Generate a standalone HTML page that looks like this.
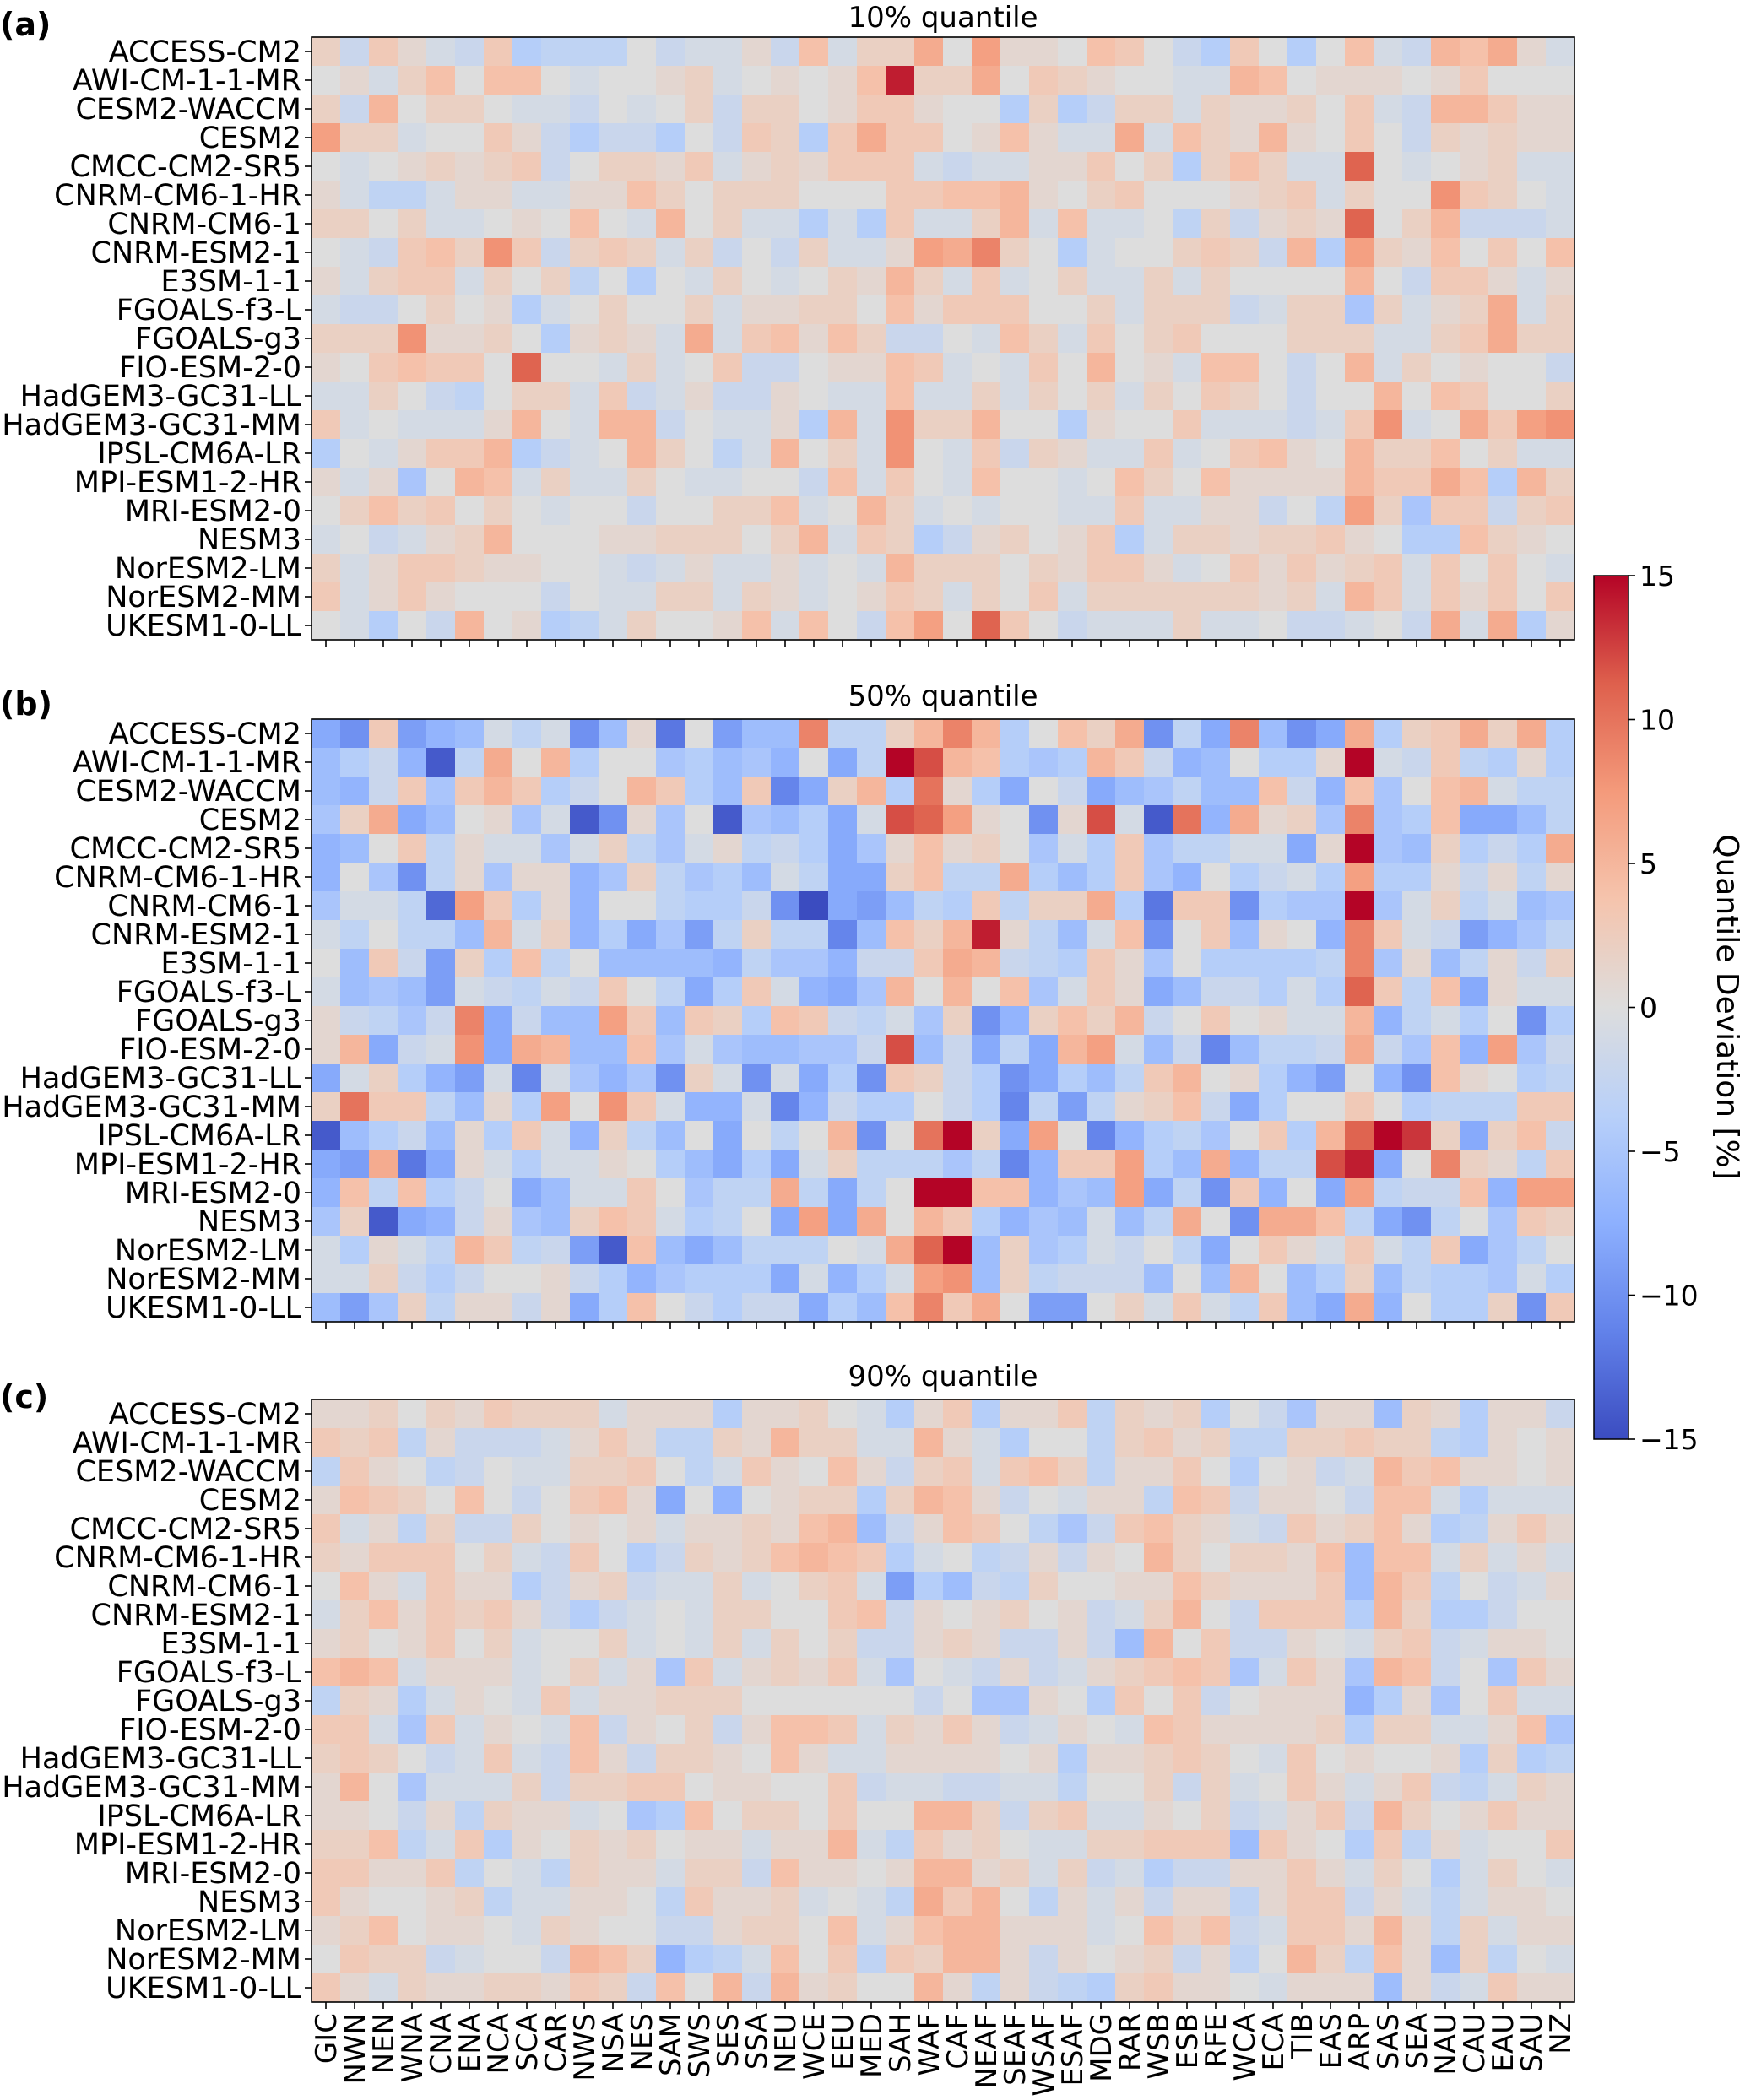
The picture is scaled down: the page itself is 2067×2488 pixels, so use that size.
<!DOCTYPE html>
<html><head><meta charset="utf-8"><title>Quantile deviation heatmaps</title>
<style>
html,body{margin:0;padding:0;background:#fff;}
svg{display:block;font-family:"DejaVu Sans","Liberation Sans",sans-serif;}
</style></head>
<body>
<svg id="fig" width="2067" height="2488" viewBox="0 0 2067 2488" xmlns="http://www.w3.org/2000/svg">
<defs>
<linearGradient id="cbgrad" x1="0" y1="1" x2="0" y2="0">
<stop offset="0" stop-color="rgb(59,76,192)"/>
<stop offset="0.125" stop-color="rgb(98,130,234)"/>
<stop offset="0.25" stop-color="rgb(141,176,254)"/>
<stop offset="0.375" stop-color="rgb(184,208,249)"/>
<stop offset="0.5" stop-color="rgb(221,221,221)"/>
<stop offset="0.625" stop-color="rgb(245,196,173)"/>
<stop offset="0.75" stop-color="rgb(244,154,123)"/>
<stop offset="0.875" stop-color="rgb(222,96,77)"/>
<stop offset="1" stop-color="rgb(180,4,38)"/>
</linearGradient>
</defs>
<rect width="2067" height="2488" fill="#fff"/>
<g id="panels"></g>
<g id="colorbar">
<rect x="1888" y="682" width="41" height="1023" fill="url(#cbgrad)" stroke="#000" stroke-width="1.5"/>
</g>
</svg>
<script>
const models = ["ACCESS-CM2","AWI-CM-1-1-MR","CESM2-WACCM","CESM2","CMCC-CM2-SR5","CNRM-CM6-1-HR","CNRM-CM6-1","CNRM-ESM2-1","E3SM-1-1","FGOALS-f3-L","FGOALS-g3","FIO-ESM-2-0","HadGEM3-GC31-LL","HadGEM3-GC31-MM","IPSL-CM6A-LR","MPI-ESM1-2-HR","MRI-ESM2-0","NESM3","NorESM2-LM","NorESM2-MM","UKESM1-0-LL"];
const regions = ["GIC","NWN","NEN","WNA","CNA","ENA","NCA","SCA","CAR","NWS","NSA","NES","SAM","SWS","SES","SSA","NEU","WCE","EEU","MED","SAH","WAF","CAF","NEAF","SEAF","WSAF","ESAF","MDG","RAR","WSB","ESB","RFE","WCA","ECA","TIB","EAS","ARP","SAS","SEA","NAU","CAU","EAU","SAU","NZ"];
const cbTicks = [15,10,5,0,-5,-10,-15];
const panelTitles = ["10% quantile","50% quantile","90% quantile"];
const panelLetters = ["(a)","(b)","(c)"];
const q10 = [
[2,-2,3,1,-1,-2,3,-4,-3,-3,-3,0,-2,-1,-1,1,-2,4,-1,2,2,6,0,7,1,1,0,4,3,0,-2,-4,3,0,-4,0,4,-1,-2,5,4,6,1,-1],
[0,1,-1,2,4,0,4,4,0,-1,0,0,1,2,-1,0,1,0,1,4,14,2,2,6,0,3,2,1,0,0,-1,-1,5,4,0,1,1,1,0,1,3,0,0,0],
[2,-2,5,0,2,2,0,-1,-1,-2,0,-1,0,2,-2,2,2,0,1,3,3,1,0,0,-4,2,-4,-2,2,2,-1,2,1,1,2,0,3,-1,-2,5,5,3,1,1],
[7,2,2,-1,0,0,3,1,-2,-4,-2,-2,-4,0,-2,3,2,-4,3,6,3,3,0,1,4,1,-1,-1,6,-1,4,2,1,5,1,0,3,0,-2,2,1,2,1,1],
[0,-1,0,1,2,1,2,3,-2,0,2,2,1,3,-1,1,2,1,3,3,3,-1,-2,-1,-1,1,1,3,0,2,-4,2,4,2,-1,-1,11,0,-1,0,1,2,-1,-1],
[1,-1,-3,-3,-1,1,1,-1,-1,1,1,4,2,0,2,2,2,0,0,0,3,3,4,4,5,1,0,2,3,0,0,0,1,2,3,-1,2,0,0,8,3,2,0,-1],
[2,2,0,2,-1,-1,0,1,0,4,0,-1,5,0,2,-1,-1,-4,-1,-4,3,-1,-1,2,5,-1,4,-1,-1,0,-3,2,-2,1,2,1,11,0,2,5,-2,-2,-2,-1],
[0,-1,-2,3,4,2,8,3,-2,2,3,2,-1,2,-2,0,-2,2,-1,-1,1,7,6,9,2,0,-4,-1,0,0,2,3,2,-2,5,-4,7,2,1,4,0,3,0,4],
[1,-1,2,3,3,-1,2,0,2,-3,0,-4,0,-1,2,0,-1,0,2,1,5,2,-1,3,-1,0,2,-1,-1,2,-1,2,0,0,0,0,5,0,-2,3,3,1,-1,1],
[-1,-2,-2,0,2,0,1,-4,-1,0,2,0,0,2,-1,1,1,2,2,0,4,1,3,3,3,0,0,2,-1,2,2,2,-2,-1,2,2,-5,2,-1,1,2,6,-1,2],
[2,2,2,8,1,1,2,0,-4,1,2,1,-1,6,-1,3,4,1,4,2,-2,-2,0,-1,4,2,-1,3,0,2,3,0,0,0,2,2,2,-1,-1,2,3,6,2,2],
[1,0,3,4,3,3,0,11,0,0,-1,2,-1,0,3,-2,-2,0,1,1,4,3,-1,0,-1,3,0,5,0,1,-1,4,4,0,-2,0,5,-1,2,0,1,0,0,-2],
[-1,-1,2,0,-2,-3,0,2,2,-1,3,-2,-1,1,-2,-2,1,0,-1,-1,4,-1,-1,2,-1,2,0,2,-1,2,0,3,2,0,-2,0,0,5,0,4,3,0,0,2],
[3,-1,0,-1,-1,-1,1,5,0,-1,5,5,-2,0,-1,-1,1,-4,5,-1,8,2,2,5,0,0,-4,1,0,0,3,-1,-1,-1,-2,-1,3,8,-1,0,6,3,7,8],
[-4,0,-1,1,3,3,5,-4,-2,-1,0,5,2,0,-3,-1,5,0,2,-1,8,0,-1,3,-2,2,1,-1,-1,3,-1,0,3,4,1,0,5,2,2,4,0,2,-1,-1],
[1,-1,1,-5,0,5,4,-1,2,-1,-1,2,0,-1,-1,0,0,-2,4,-1,3,0,-1,4,0,0,-1,0,4,2,0,4,1,1,1,1,5,3,3,6,4,-4,5,2],
[0,2,4,2,3,0,2,0,-1,0,0,-2,0,0,2,2,4,-1,0,5,2,-1,0,-1,0,0,-1,-1,3,-1,-1,1,1,-2,0,-3,7,2,-5,3,3,-2,2,3],
[-1,0,-2,-1,1,2,5,0,0,0,1,1,2,2,2,0,2,5,-1,3,2,-4,-2,1,2,0,1,3,-4,-1,2,2,1,2,2,3,1,0,-4,-4,4,2,1,0],
[2,-1,1,3,3,2,1,1,0,0,-1,-2,-1,1,-1,-1,1,-1,0,-1,5,2,2,2,0,2,1,3,3,1,-1,0,3,1,3,1,2,3,-1,3,0,3,0,-1],
[3,-1,1,3,1,0,0,0,-2,0,-1,-1,2,2,-1,2,1,-1,0,1,3,2,-1,2,0,3,-1,2,2,2,2,2,2,1,2,-1,5,3,-1,3,1,3,0,3],
[0,-1,-4,0,-2,5,0,1,-4,-3,-1,2,0,0,1,4,-1,4,0,-2,4,7,0,11,3,0,-2,-1,-1,-1,2,-1,-1,0,-2,-2,-1,0,-2,6,-1,6,-4,1]
];
const q50 = [
[-8,-10,3,-9,-7,-6,-1,-3,-1,-10,-6,1,-12,0,-9,-6,-6,9,-3,-3,2,5,9,5,-4,0,4,2,6,-10,-3,-8,9,-6,-10,-8,6,-4,2,3,6,2,6,-4],
[-6,-4,-2,-7,-14,-3,6,0,5,-4,0,0,-5,-4,-6,-5,-7,0,-8,-3,15,12,5,4,-4,-5,-4,5,3,-2,-7,-6,0,-4,-4,1,15,-1,-2,3,-3,-4,1,-4],
[-6,-7,-2,3,-5,3,5,3,-4,-2,0,5,3,-4,-6,3,-11,-8,2,5,-4,10,1,-4,-8,0,-2,-8,-6,-5,-3,-6,-6,4,-2,-7,4,-5,0,4,5,-1,-3,-3],
[-5,2,6,-8,-6,0,1,-5,-1,-14,-10,1,-5,0,-14,-5,-6,-4,-8,-1,12,11,7,1,0,-10,1,12,-1,-14,10,-7,6,1,2,-5,9,-5,-4,4,-8,-8,-6,-3],
[-7,-6,0,3,-3,1,-1,-1,-5,-1,2,-3,-5,-1,1,-3,-2,-4,-8,-5,1,4,1,2,0,-5,-1,-4,3,-5,-3,-3,-1,-1,-8,1,15,-5,-6,2,-4,-2,-4,6],
[-7,0,-5,-10,-3,1,-5,1,1,-7,-5,2,-3,-5,-4,-6,-1,-3,-8,-8,2,4,-3,-3,6,-4,-6,-4,3,-5,-7,0,-4,-2,-1,-4,7,-4,-4,1,-2,1,-3,1],
[-5,-1,-1,-3,-13,7,3,-4,1,-7,0,0,-3,-4,-4,-2,-10,-15,-8,-9,-6,-3,-4,3,-3,2,2,6,-4,-12,3,3,-10,-4,-5,-5,15,-5,-1,2,-3,-1,-6,-5],
[-1,-3,0,-3,-3,-6,5,-1,2,-7,-4,-8,-5,-9,-3,2,-3,-3,-11,-6,4,2,5,14,1,-3,-6,-1,4,-10,0,3,-6,1,0,-7,9,3,-1,-2,-9,-7,-5,-3],
[0,-6,3,-2,-9,2,-4,4,-3,0,-6,-6,-6,-6,-7,-3,-5,-5,-7,-2,-2,3,6,5,-2,-3,-4,3,1,-5,0,-4,-4,-4,-4,-3,9,-5,1,-6,-3,1,-2,2],
[-1,-6,-5,-6,-9,-1,-2,-3,-1,-2,3,0,-3,-8,-4,3,-1,-7,-8,-5,5,0,5,0,4,-5,-1,3,1,-8,-6,-2,-2,-4,-1,-4,11,3,-3,4,-8,1,-1,-1],
[1,-2,-3,-5,-2,9,-8,-2,-6,-6,7,3,-6,3,2,-4,4,3,-2,-3,-1,-5,2,-10,-7,2,4,2,5,-2,0,3,0,1,-1,-1,5,-7,-3,-1,-4,0,-10,-4],
[1,5,-8,-2,-1,8,-8,6,5,-6,-6,4,-5,-1,-5,-6,-6,-5,-5,-2,12,-6,-2,-8,-3,-8,5,7,-1,-6,-2,-11,-6,-3,-3,-2,6,-2,-5,4,-7,7,-5,-2],
[-8,-1,2,-4,-7,-9,-1,-11,-1,-5,-7,-5,-10,2,-1,-10,-1,-8,-4,-10,3,2,-2,-4,-10,-8,-4,-6,-3,3,5,0,1,-4,-7,-9,0,-7,-10,4,1,0,-4,-3],
[2,10,3,3,-3,-6,1,-4,7,0,8,3,-1,-7,-7,-1,-11,-7,-2,-4,-4,0,-2,-4,-11,-3,-9,-3,1,2,4,-2,-8,-4,0,0,3,0,-4,-3,-3,-3,3,3],
[-14,-6,-4,-2,-6,1,-4,3,-1,-7,2,-3,-6,0,-8,0,-3,0,5,-10,0,10,15,2,-8,7,0,-11,-7,-4,-3,-5,0,3,-4,5,11,15,13,2,-8,2,4,-2],
[-8,-9,6,-12,-8,1,-1,-4,-1,-1,1,0,-4,-6,-8,-4,-8,-1,2,-3,-3,-3,-5,-3,-11,-7,3,3,7,-4,-6,6,-7,-3,-3,12,14,-8,0,9,2,1,-3,3],
[-7,4,-3,4,-4,-2,0,-8,-6,-1,-1,3,0,-5,-3,-3,6,-3,-8,-3,0,15,15,4,4,-7,-5,-6,7,-8,-3,-10,3,-7,0,-8,7,-3,-2,-2,4,-7,7,7],
[-5,2,-14,-8,-7,-2,1,-5,-6,2,4,3,-1,-4,-3,0,-8,7,-8,6,0,5,3,-4,-7,-5,-6,-1,-6,-3,6,0,-10,6,6,4,-3,-8,-10,-3,0,-5,3,2],
[-1,-4,1,-1,-3,5,3,-3,-2,-9,-14,4,-6,-8,-6,-3,-3,-3,0,-1,6,11,15,-6,2,-5,-4,-1,-2,0,-3,-8,0,3,1,-1,3,-1,-3,3,-8,-5,-3,0],
[-1,-1,2,-2,-4,-2,0,0,1,-2,-4,-7,-5,-4,-4,-4,-8,-1,-7,-4,-1,7,8,-6,2,-3,-2,-2,-2,-6,0,-6,5,0,-6,-4,2,-6,-3,-4,-4,-5,-1,-4],
[-6,-9,-5,2,-3,1,1,-2,1,-8,-4,4,0,-2,-4,-2,-2,-8,-4,-6,4,9,3,6,0,-9,-9,0,2,-1,3,-1,-3,3,-6,-8,6,-7,0,-4,-4,2,-10,3]
];
const q90 = [
[1,1,2,0,2,1,3,2,2,2,-1,1,1,1,-4,1,1,2,0,-1,-4,1,3,-4,1,1,3,-3,2,1,2,-4,0,-2,-5,1,1,-6,2,1,-4,1,1,-2],
[3,2,3,-3,1,-2,-2,-2,-1,1,3,1,-3,-3,2,1,5,2,2,-1,-1,5,1,-1,-4,0,0,-3,2,3,1,2,-3,-3,2,2,3,2,2,-3,-4,1,0,1],
[-3,3,1,0,-3,-2,0,-1,-1,2,2,3,0,-3,-1,3,1,0,4,1,-2,2,3,-1,3,4,2,-3,1,1,3,0,-4,0,1,-2,-1,5,3,4,1,1,0,1],
[1,4,3,2,0,4,0,-2,0,3,4,1,-8,0,-7,0,1,2,2,-4,2,5,4,1,-2,0,-1,1,1,-3,4,3,-2,1,1,0,-2,4,4,-1,-4,-1,-1,-1],
[3,-1,1,-3,2,-2,-2,2,0,1,0,1,-1,1,1,2,1,4,5,-6,-2,1,4,3,0,-3,-5,-2,3,4,2,1,-1,-2,3,1,2,4,1,-4,-3,1,3,1],
[2,1,3,3,3,0,2,-1,-2,3,0,-4,-2,2,1,2,4,5,4,3,-4,-1,0,-3,-2,1,-2,1,0,5,2,0,2,2,1,4,-6,4,4,-1,2,-1,1,-1],
[0,4,1,-1,3,1,1,-4,-2,1,2,-2,-1,-1,2,-1,0,2,3,-1,-9,-4,-6,-2,-3,2,0,0,1,1,4,2,1,1,1,3,-6,5,3,-3,0,-2,-1,1],
[-1,2,4,1,3,2,3,1,-2,-4,-2,-1,0,-1,2,2,0,0,3,4,-2,1,0,1,2,0,1,-2,-1,2,5,0,-2,3,3,3,-4,5,2,-4,-4,-2,0,0],
[1,2,0,1,3,0,2,-1,0,0,2,-1,0,-1,2,-1,2,0,2,-2,-2,1,2,1,-2,-2,1,-2,-6,5,0,3,-2,-2,1,0,-1,2,3,-2,-1,1,1,0],
[4,5,4,-1,1,1,1,-1,0,2,-1,1,-5,3,-1,1,2,1,3,-1,-5,0,-1,-2,1,-2,-1,1,2,3,4,3,-5,-1,3,1,-5,5,4,-2,0,-5,3,1],
[-3,2,1,-4,-1,1,0,-1,3,-1,1,1,2,2,2,0,0,0,0,0,0,-2,0,-5,-5,1,0,-4,3,0,3,-2,0,1,1,1,-7,-4,1,-5,0,3,-1,-1],
[3,3,-1,-5,3,-1,1,0,-1,4,-2,1,0,2,-2,1,4,4,3,-1,2,1,3,1,-2,-1,1,0,-1,4,3,1,1,1,1,2,-4,2,2,-1,-1,1,4,-5],
[2,3,2,0,-2,-1,3,-1,-2,4,1,-2,2,2,1,0,4,1,-1,-1,1,1,1,1,0,1,-4,1,1,2,3,2,0,-1,3,0,1,0,0,1,-4,2,-4,-3],
[1,5,0,-5,-1,-1,-1,2,-2,2,2,3,3,0,1,1,0,0,3,-2,-1,-1,-2,-2,-1,-1,-3,0,0,2,-2,2,-1,0,3,1,-1,1,3,-2,-3,-1,2,1],
[1,1,0,-2,1,-3,2,1,1,-1,0,-5,-4,4,0,2,2,0,3,0,0,5,5,2,-2,2,3,-1,-1,1,0,2,-2,-1,1,3,-2,5,2,0,1,3,1,1],
[2,2,4,-3,-1,3,-4,1,0,2,1,2,0,1,1,-1,1,1,5,-1,-3,3,1,2,0,-1,-1,2,2,3,3,3,-6,3,1,0,-4,3,-3,1,-1,0,0,3],
[3,3,1,1,3,-3,0,-1,-3,2,1,1,-1,2,2,-2,4,1,1,0,1,5,5,1,2,-1,2,-2,-1,-4,-2,-2,1,1,3,1,-1,2,0,-4,-1,2,0,-1],
[3,1,0,0,1,2,-3,-1,-1,1,1,0,-3,3,1,1,2,-1,0,-1,-3,6,3,5,0,-3,1,-1,1,-2,1,1,-3,1,3,3,-2,1,-1,-3,-1,1,1,0],
[1,2,4,0,1,1,0,-1,2,1,0,0,-2,-2,1,2,2,0,4,-1,1,4,5,5,1,1,1,-1,0,4,2,4,-2,-1,3,3,1,5,1,-3,2,-1,1,1],
[0,3,2,2,-2,-1,0,0,-2,5,4,2,-7,-4,-3,-1,4,0,3,-3,3,2,5,5,1,-2,1,0,1,2,-2,1,-3,0,5,2,-3,4,1,-6,2,-3,0,-1],
[3,1,-1,2,1,1,2,2,1,3,2,-2,4,0,5,-2,5,1,2,0,0,5,1,-3,1,-2,-3,-4,2,3,1,1,0,-1,1,1,1,-6,1,-2,-1,3,1,1]
];
const panelData = [q10, q50, q90];

const NS = "http://www.w3.org/2000/svg";
const VMIN = -15, VMAX = 15;
const PLOT_LEFT = 369, CELL = 34;
const panelTops = [44, 852, 1658];
const titleY = [32, 836, 1642];
const letterY = [42, 847, 1668];
const CB_TOP = 682, CB_H = 1023;

const cmapStops = [[59,76,192],[98,130,234],[141,176,254],[184,208,249],[221,221,221],[245,196,173],[244,154,123],[222,96,77],[180,4,38]];
function colorOf(v){
  let t = (v - VMIN) / (VMAX - VMIN);
  t = Math.max(0, Math.min(1, t));
  const p = t * (cmapStops.length - 1);
  const i = Math.min(Math.floor(p), cmapStops.length - 2);
  const f = p - i;
  const a = cmapStops[i], b = cmapStops[i+1];
  return "rgb(" + [0,1,2].map(k => Math.round(a[k] + (b[k]-a[k])*f)).join(",") + ")";
}
function xScale(j){ return PLOT_LEFT + j*CELL; }
function yScale(top, i){ return top + i*CELL; }
function cbScale(v){ return CB_TOP + (VMAX - v)/(VMAX - VMIN)*CB_H; }
function mk(tag, attrs, parent){
  const el = document.createElementNS(NS, tag);
  for (const k in attrs) el.setAttribute(k, attrs[k]);
  parent.appendChild(el);
  return el;
}

const root = document.getElementById("panels");
const W = regions.length*CELL, H = models.length*CELL;
panelData.forEach((data, p) => {
  const top = panelTops[p];
  const g = mk("g", {}, root);
  
  
  data.forEach((row, i) => {
    row.forEach((v, j) => {
      const r = mk("rect", {x: xScale(j), y: yScale(top, i), width: CELL+0.5, height: CELL+0.5, fill: colorOf(v)}, g);
      
      
    });
  });
  const fr = mk("rect", {x: PLOT_LEFT, y: top, width: W, height: H, fill: "none", stroke: "#000", "stroke-width": 1.6}, g);
  
  
  models.forEach((m, i) => {
    const cy = yScale(top, i) + CELL/2;
    const tk = mk("line", {x1: PLOT_LEFT-8, x2: PLOT_LEFT, y1: cy, y2: cy, stroke: "#000", "stroke-width": 1.6}, g);
    
    
    const t = mk("text", {x: PLOT_LEFT-12, y: cy+12, "text-anchor": "end", "font-size": 35, fill: "#000"}, g);
    t.textContent = m;
    
    
  });
  regions.forEach((r, j) => {
    const cx = xScale(j) + CELL/2;
    const tk = mk("line", {x1: cx, x2: cx, y1: top+H, y2: top+H+8, stroke: "#000", "stroke-width": 1.6}, g);
    
    
    if (p === 2) {
      const t = mk("text", {x: 0, y: 0, "text-anchor": "end", "font-size": 34, fill: "#000", transform: "translate(" + (cx+12) + "," + (top+H+13) + ") rotate(-90)"}, g);
      t.textContent = r;
      
      
    }
  });
  const tt = mk("text", {x: PLOT_LEFT + W/2, y: titleY[p], "text-anchor": "middle", "font-size": 34, fill: "#000"}, g);
  tt.textContent = panelTitles[p];
  
  
  const lt = mk("text", {x: 0, y: letterY[p], "font-size": 38, "font-weight": "bold", fill: "#000"}, g);
  lt.textContent = panelLetters[p];
  
  
});

const cb = document.getElementById("colorbar");
cbTicks.forEach(v => {
  const y = cbScale(v);
  const tk = mk("line", {x1: 1929, x2: 1937, y1: y, y2: y, stroke: "#000", "stroke-width": 1.6}, cb);
  
  
  const t = mk("text", {x: 1942, y: y+12, "font-size": 33, fill: "#000"}, cb);
  t.textContent = v < 0 ? "\u2212" + Math.abs(v) : String(v);
  
  
});
const cl = mk("text", {x: 0, y: 0, "text-anchor": "middle", "font-size": 36, fill: "#000", transform: "translate(2034,1193) rotate(90)"}, cb);
cl.textContent = "Quantile Deviation [%]";


</script>
</body></html>
